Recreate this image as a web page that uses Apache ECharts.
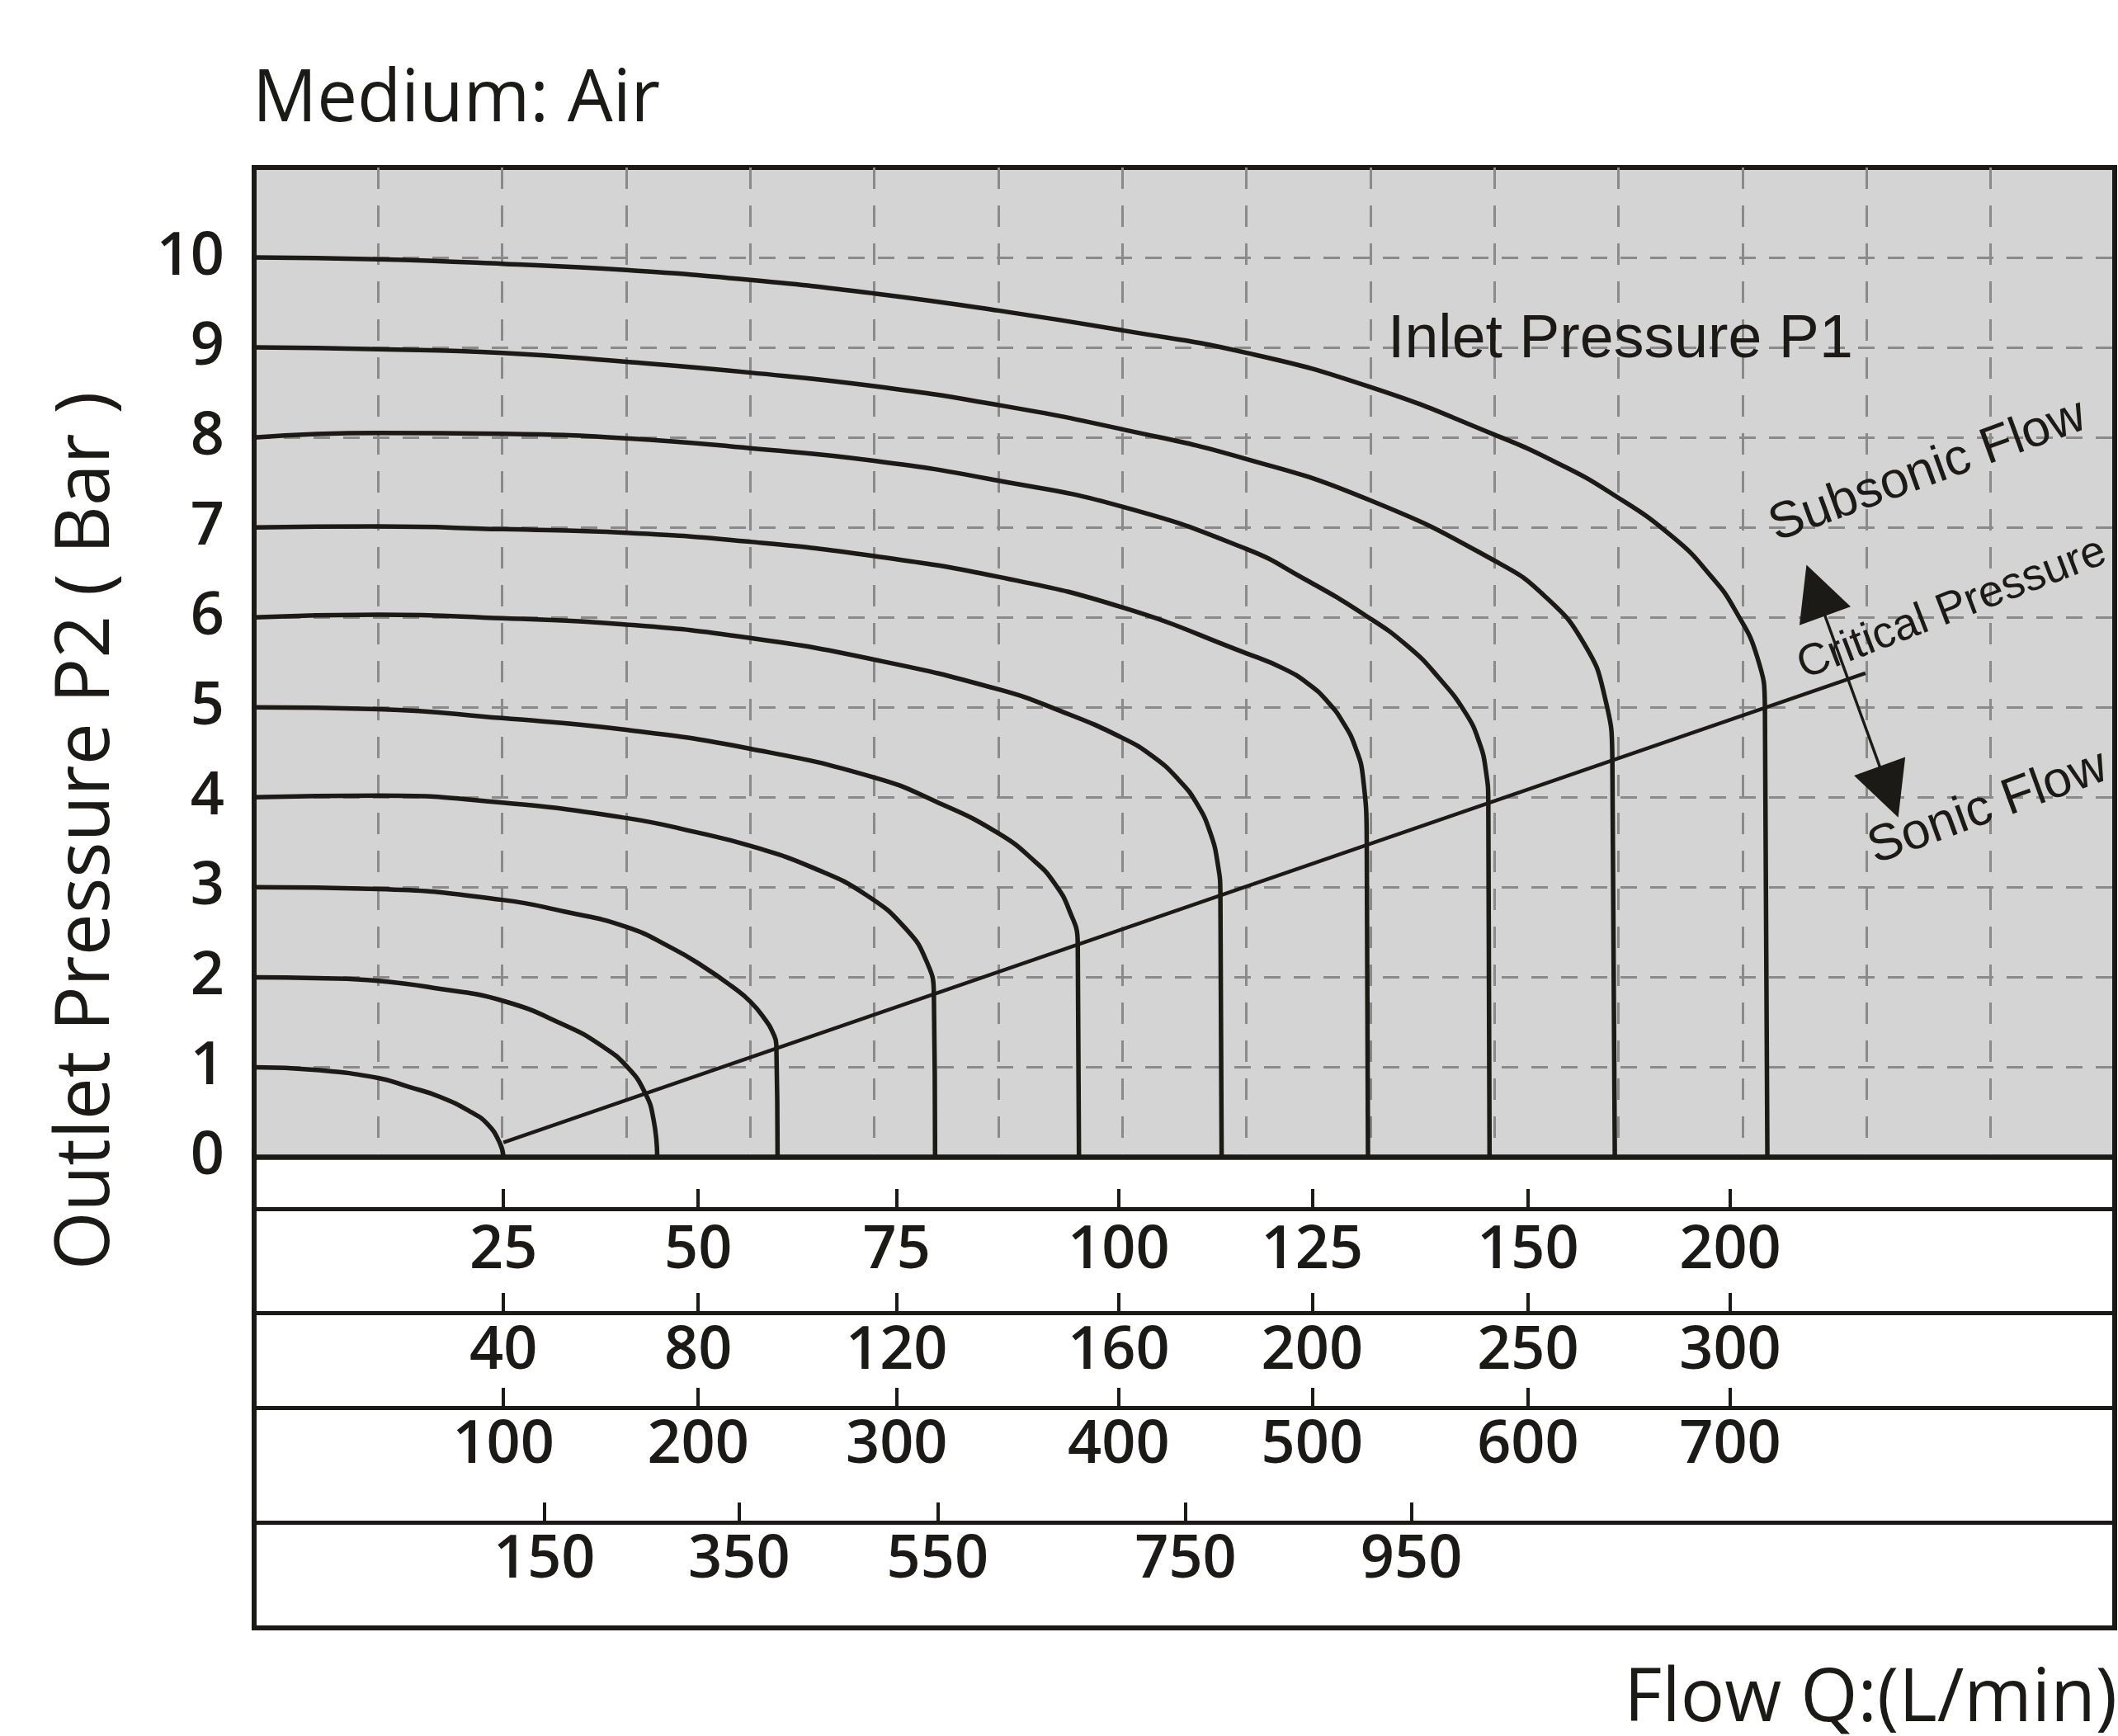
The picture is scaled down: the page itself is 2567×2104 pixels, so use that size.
<!DOCTYPE html>
<html lang="en">
	<head>
		<meta charset="utf-8">
		<title>Flow characteristics - Medium: Air</title>
		<style>
			html, body{
				margin: 0;
				padding: 0;
				background: #ffffff;
			}
			#chart{
				width: 2567px;
				height: 2104px;
			}
		</style>
	</head>
	<body>
		<div id="chart"></div>
		<script src="https://cdn.jsdelivr.net/npm/echarts@6.0.0/dist/echarts.min.js"></script>
		<script type="text/javascript">
			// inlet pressure curves: x = position on the flow scales (one unit per grid column), y = outlet pressure P2 (bar)
			var curve1 = [[0,1],[0.5,0.97],[1,0.88],[1.25,0.78],[1.5,0.67],[1.75,0.5],[1.88,0.37],[1.98,0.16],[2.01,0]];
			var curve2 = [[0,2],[0.5,1.99],[1,1.96],[1.5,1.87],[2,1.74],[2.5,1.47],[2.8,1.24],[3.01,1.0],[3.15,0.72],[3.22,0.42],[3.25,0]];
			var curve3 = [[0,3],[1,2.98],[2,2.86],[2.5,2.73],[3,2.56],[3.36,2.33],[3.62,2.12],[3.85,1.9],[4.0,1.73],[4.12,1.53],[4.19,1.36],[4.21,1.25],[4.22,0]];
			var curve4 = [[0,4],[1,4.02],[2,3.94],[3,3.77],[3.6,3.6],[4,3.46],[4.5,3.22],[4.94,2.91],[5.26,2.53],[5.42,2.18],[5.48,1.82],[5.49,0]];
			var curve5 = [[0,5],[1,4.98],[2,4.88],[3,4.75],[4,4.54],[5,4.22],[5.5,3.95],[6,3.6],[6.3,3.28],[6.45,3.05],[6.57,2.75],[6.64,2.38],[6.65,0]];
			var curve6 = [[0,6],[1,6.03],[2,5.99],[3,5.92],[4,5.77],[5,5.53],[6,5.2],[6.5,4.96],[7,4.66],[7.25,4.45],[7.45,4.2],[7.6,3.93],[7.71,3.6],[7.77,3.25],[7.79,2.93],[7.8,0]];
			var curve7 = [[0,7],[1,7.01],[2,6.98],[3,6.94],[4,6.84],[5,6.68],[6,6.45],[7,6.11],[8,5.6],[8.3,5.43],[8.5,5.26],[8.65,5.07],[8.78,4.83],[8.88,4.55],[8.94,4.22],[8.97,3.49],[8.98,0]];
			var curve8 = [[0,8],[1,8.05],[2,8.04],[3,7.99],[4,7.88],[5,7.74],[6,7.52],[7,7.23],[8,6.76],[8.45,6.44],[8.95,6.03],[9.3,5.68],[9.55,5.33],[9.77,4.93],[9.88,4.6],[9.93,4.3],[9.95,3.95],[9.96,0]];
			var curve9 = [[0,9],[1,8.98],[2,8.94],[3,8.84],[4,8.72],[5,8.57],[6,8.36],[7,8.09],[8,7.76],[9,7.3],[10,6.63],[10.41,6.23],[10.73,5.69],[10.89,5.11],[10.95,4.42],[10.97,0]];
			var curve10 = [[0,10],[1,9.98],[2,9.93],[3,9.86],[4,9.75],[5,9.6],[6,9.41],[7,9.19],[8,8.94],[9,8.56],[10,8.03],[10.5,7.72],[10.94,7.38],[11.44,6.89],[11.75,6.45],[11.94,6.08],[12.12,5.55],[12.18,5.0],[12.2,0]];
			var criticalLine = [[2.01,0.165],[12.99,5.38]];
			var flowArrow = [[12.59,6.30],[13.18,4.06]];

			// flow scales under the chart (L/min), one row per size
			var scaleTicks = [2.01,3.58,5.18,6.97,8.53,10.27,11.9];
			var row1Labels = ['25','50','75','100','125','150','200'];
			var row2Labels = ['40','80','120','160','200','250','300'];
			var row3Labels = ['100','200','300','400','500','600','700'];
			var row4Ticks = [2.34,3.91,5.51,7.51,9.33];
			var row4Labels = ['150','350','550','750','950'];

			var INK = '#1c1a17';
			var SANS = 'Open Sans';
			var ARIAL = 'Liberation Sans';

			function flowAxis(ticks, labels, offset, margin){
				return {
					type: 'value', gridIndex: 0, position: 'bottom', offset: offset,
					min: 0, max: 15,
					axisLine: {show: true, onZero: false, lineStyle: {color: INK, width: 5}},
					axisTick: {show: true, inside: true, length: 24, customValues: ticks, lineStyle: {color: INK, width: 4}},
					axisLabel: {
						customValues: ticks, margin: margin, fontSize: 72, fontWeight: 600, fontFamily: SANS, color: INK,
						formatter: function(v){
							var best = -1, d = 1e9;
							for (var i = 0; i < ticks.length; i++) {
								if (Math.abs(ticks[i] - v) < d) { d = Math.abs(ticks[i] - v); best = i; }
							}
							return d < 0.01 ? labels[best] : '';
						}
					},
					splitLine: {show: false}
				};
			}

			var curves = [curve1, curve2, curve3, curve4, curve5, curve6, curve7, curve8, curve9, curve10];
			var series = [];
			for (var i = 0; i < curves.length; i++) {
				series.push({
					name: 'P1 = ' + (i + 1) + ' bar', type: 'line', data: curves[i],
					symbol: 'none', smooth: 0.5, silent: true, z: 3,
					lineStyle: {color: INK, width: 5.5}
				});
			}
			series.push({
				name: 'Critical Pressure', type: 'line', data: criticalLine,
				symbol: 'none', silent: true, z: 3,
				lineStyle: {color: INK, width: 4.5}
			});
			series.push({
				name: 'arrow', type: 'lines', coordinateSystem: 'cartesian2d', xAxisIndex: 0, yAxisIndex: 0,
				data: [{coords: flowArrow}], symbol: ['triangle', 'triangle'], symbolSize: 66,
				silent: true, z: 4,
				itemStyle: {color: INK},
				lineStyle: {color: INK, width: 3.5, opacity: 1, curveness: 0}
			});

			var myChart = echarts.init(document.getElementById('chart'), null, {renderer: 'canvas'});
			var option = {
				animation: false,
				backgroundColor: '#ffffff',
				title: {
					text: 'Medium: Air', left: 306, top: 79, padding: 0,
					textStyle: {fontSize: 87, fontFamily: SANS, fontWeight: 'normal', color: INK, lineHeight: 87}
				},
				grid: {
					left: 308, right: 4, top: 203, bottom: 701.5,
					outerBoundsMode: 'none',
					show: true, backgroundColor: '#d4d4d4', borderColor: INK, borderWidth: 6
				},
				xAxis: [
					{
						type: 'value', gridIndex: 0, position: 'bottom', min: 0, max: 15, interval: 1,
						axisLine: {show: false, onZero: false},
						axisTick: {show: false},
						axisLabel: {show: false},
						splitLine: {show: true, showMinLine: false, showMaxLine: false, lineStyle: {type: [26, 20], color: '#8a8a8a', width: 3}}
					},
					flowAxis(scaleTicks, row1Labels, 62.5, 15),
					flowAxis(scaleTicks, row2Labels, 188.5, 11),
					flowAxis(scaleTicks, row3Labels, 303.5, 10),
					flowAxis(row4Ticks, row4Labels, 442.5, 10)
				],
				yAxis: {
					type: 'value', min: 0, max: 11, interval: 1,
					axisLine: {show: false},
					axisTick: {show: false},
					axisLabel: {
						margin: 36, fontSize: 72, fontWeight: 600, fontFamily: SANS, color: INK,
						formatter: function(v){ return v > 10 ? '' : String(v); }
					},
					splitLine: {show: true, showMinLine: false, showMaxLine: false, lineStyle: {type: [20, 16], color: '#8a8a8a', width: 3}}
				},
				graphic: [
					{type: 'rect', z: 100, shape: {x: 308, y: 1402.5, width: 2255, height: 570.5}, style: {fill: 'transparent', stroke: INK, lineWidth: 6}},
					{type: 'text', z: 100, x: 106, y: 1007, rotation: Math.PI / 2,
						style: {text: 'Outlet Pressure P2 ( Bar )', fontSize: 91, fontFamily: SANS, fill: INK, align: 'center', verticalAlign: 'middle', textAlign: 'center', textVerticalAlign: 'middle'}},
					{type: 'text', z: 100, x: 2566, y: 2061,
						style: {text: 'Flow Q:(L/min)', fontSize: 89, fontFamily: SANS, fill: INK, align: 'right', verticalAlign: 'middle', textAlign: 'right', textVerticalAlign: 'middle'}},
					{type: 'text', z: 100, x: 1682, y: 413,
						style: {text: 'Inlet Pressure P1', fontSize: 73.5, fontFamily: ARIAL, fill: INK, align: 'left', verticalAlign: 'middle', textAlign: 'left', textVerticalAlign: 'middle'}},
					{type: 'text', z: 100, x: 2147, y: 640, rotation: 20 * Math.PI / 180,
						style: {text: 'Subsonic Flow', fontSize: 62, fontFamily: ARIAL, fill: INK, align: 'left', verticalAlign: 'middle', textAlign: 'left', textVerticalAlign: 'middle'}},
					{type: 'text', z: 100, x: 2181, y: 809, rotation: 21 * Math.PI / 180,
						style: {text: 'Critical Pressure', fontSize: 54, fontFamily: ARIAL, fill: INK, align: 'left', verticalAlign: 'middle', textAlign: 'left', textVerticalAlign: 'middle'}},
					{type: 'text', z: 100, x: 2267, y: 1031, rotation: 20 * Math.PI / 180,
						style: {text: 'Sonic Flow', fontSize: 62, fontFamily: ARIAL, fill: INK, align: 'left', verticalAlign: 'middle', textAlign: 'left', textVerticalAlign: 'middle'}}
				],
				series: series
			};
			myChart.setOption(option);
		</script>
	</body>
</html>
